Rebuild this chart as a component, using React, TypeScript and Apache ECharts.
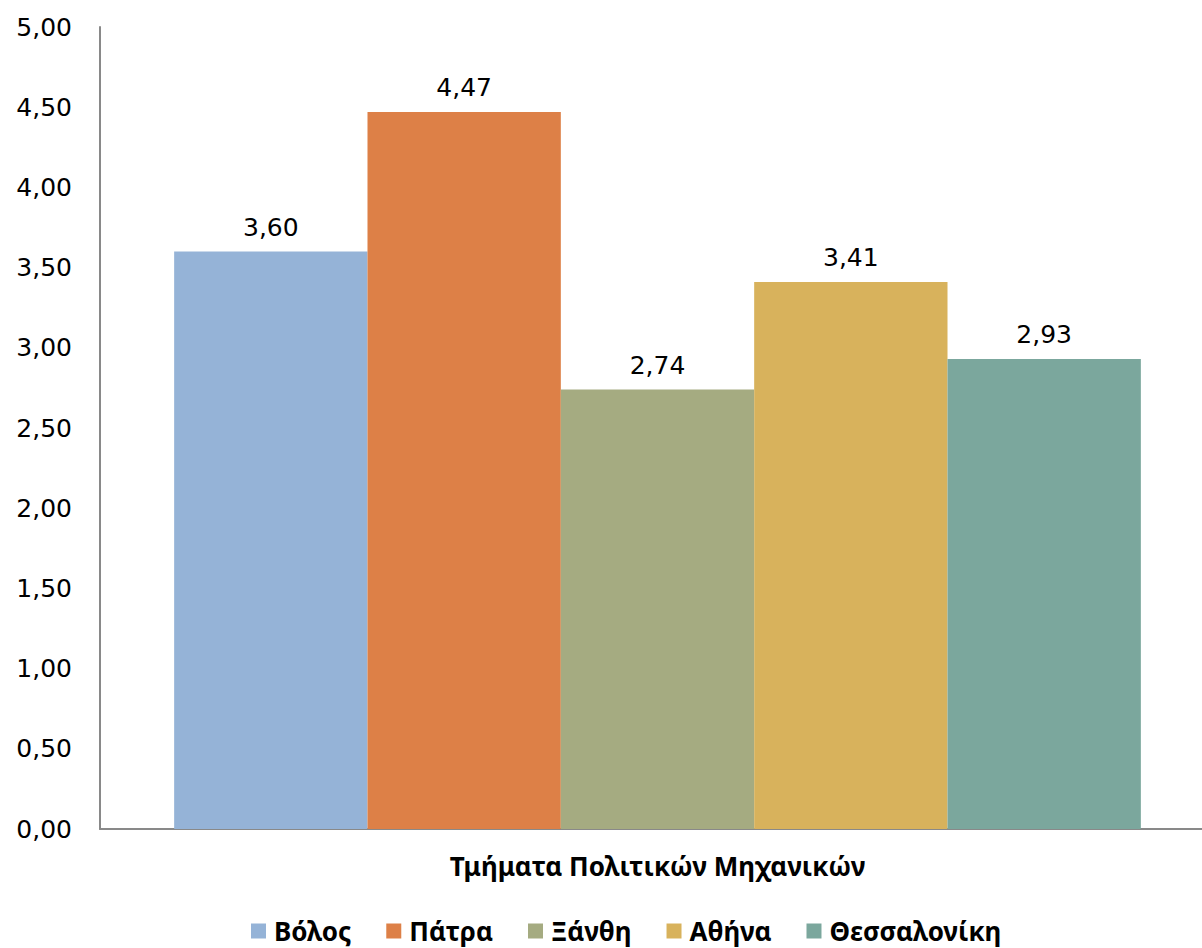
import React, { useEffect, useRef } from "react";
import * as echarts from "echarts";

const categories = ["Τμήματα Πολιτικών Μηχανικών"];
const seriesNames = ["Βόλος", "Πάτρα", "Ξάνθη", "Αθήνα", "Θεσσαλονίκη"];
const seriesValues = [3.6, 4.47, 2.74, 3.41, 2.93];
const seriesColors = ["#95B3D7", "#DD8047", "#A5AB81", "#D8B25C", "#7BA79D"];
const yTicks = { min: 0, max: 5, interval: 0.5 };

const fmt = (v: number) => v.toFixed(2).replace(".", ",");

export default function App() {
  const ref = useRef<HTMLDivElement>(null);
  useEffect(() => {
    document.body.style.margin = "0";
    document.body.style.overflow = "hidden";
    const chart = echarts.init(ref.current!, null, { renderer: "svg" });
    chart.setOption({
      animation: false,
      backgroundColor: "#ffffff",
      grid: { left: 100, top: 27, right: 0, bottom: 119, containLabel: false },
      legend: {
        data: seriesNames,
        top: 913,
        left: 246,
        itemWidth: 15,
        itemHeight: 15,
        itemGap: 35,
        icon: "rect",
        textStyle: { fontFamily: "Noto Sans", fontWeight: "bold", fontSize: 26, color: "#000", padding: [0, 0, 0, 3] },
      },
      xAxis: {
        type: "category",
        data: categories,
        axisLine: { show: true, lineStyle: { color: "#898989", width: 2 } },
        axisTick: { show: false },
        axisLabel: {
          margin: 24,
          fontFamily: "Noto Sans",
          fontWeight: "bold",
          fontSize: 26,
          color: "#000",
        },
      },
      yAxis: {
        type: "value",
        min: yTicks.min,
        max: yTicks.max,
        interval: yTicks.interval,
        axisLine: { show: true, lineStyle: { color: "#898989", width: 2 } },
        axisTick: { show: false },
        splitLine: { show: false },
        axisLabel: {
          margin: 28,
          formatter: (v: number) => fmt(v),
          fontFamily: "DejaVu Sans",
          fontSize: 25,
          color: "#000",
        },
      },
      series: seriesNames.map((name, i) => ({
        name,
        type: "bar",
        data: [seriesValues[i]],
        barGap: "0%",
        barCategoryGap: "13.3%",
        itemStyle: { color: seriesColors[i] },
        label: {
          show: true,
          position: "top",
          distance: 12,
          formatter: (p: any) => fmt(p.value),
          fontFamily: "DejaVu Sans",
          fontSize: 25,
          color: "#000",
        },
      })),
    });
    return () => chart.dispose();
  }, []);
  return <div ref={ref} style={{ width: 1215, height: 948 }} />;
}
